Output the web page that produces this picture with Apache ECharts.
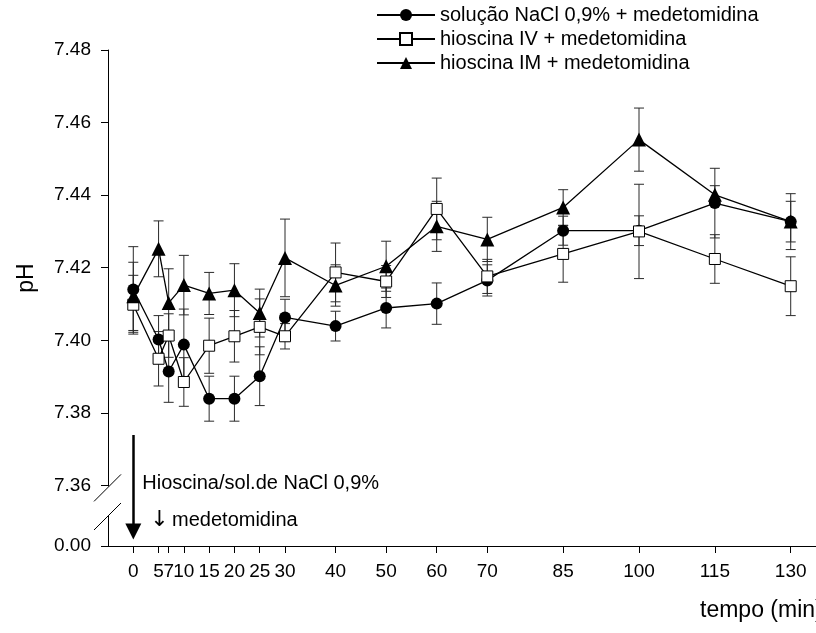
<!DOCTYPE html>
<html>
<head>
<meta charset="utf-8">
<script src="https://cdn.jsdelivr.net/npm/echarts@6/dist/echarts.min.js"></script>
<style>
  html, body { margin: 0; padding: 0; background: #fff; }
  #chart { width: 816px; height: 633px; }
</style>
</head>
<body>
<div id="chart"></div>
<script>
// Sampling times (min)
const times = [0, 5, 7, 10, 15, 20, 25, 30, 40, 50, 60, 70, 85, 100, 115, 130];

// Mean pH and SEM per group
const naclMean = [7.4140, 7.4002, 7.3914, 7.3988, 7.3839, 7.3839, 7.3901, 7.4063, 7.4039, 7.4089, 7.4101, 7.4165, 7.4302, 7.4302, 7.4378, 7.4327];
const naclErr  = [0.0118, 0.0066, 0.0085, 0.0098, 0.0062, 0.0062, 0.0081, 0.0050, 0.0041, 0.0055, 0.0057, 0.0043, 0.0040, 0.0041, 0.0096, 0.0056];

const ivMean = [7.4098, 7.3949, 7.4013, 7.3885, 7.3985, 7.4011, 7.4037, 7.4011, 7.4187, 7.4162, 7.4362, 7.4176, 7.4238, 7.4300, 7.4224, 7.4149];
const ivErr  = [0.0081, 0.0075, 0.0060, 0.0067, 0.0076, 0.0071, 0.0077, 0.0035, 0.0081, 0.0044, 0.0085, 0.0047, 0.0078, 0.0130, 0.0067, 0.0081];

const imMean = [7.4121, 7.4252, 7.4103, 7.4152, 7.4129, 7.4138, 7.4075, 7.4227, 7.4151, 7.4204, 7.4314, 7.4278, 7.4366, 7.4553, 7.4401, 7.4327];
const imErr  = [0.0094, 0.0077, 0.0094, 0.0082, 0.0058, 0.0073, 0.0066, 0.0107, 0.0057, 0.0069, 0.0069, 0.0061, 0.0049, 0.0087, 0.0025, 0.0077];

const seriesNames = [
  'solução NaCl 0,9% + medetomidina',
  'hioscina IV + medetomidina',
  'hioscina IM + medetomidina'
];

// Y tick labels above the axis break
const yTickValues = [7.36, 7.38, 7.40, 7.42, 7.44, 7.46, 7.48];
// Axis position that carries the "0.00" origin label below the break
const ORIGIN_POS = 7.3433;
const ORIGIN_LABEL = '0.00';

// Administration arrow at t = 0 (axis units)
const arrowFrom = 7.3739;
const arrowTo = 7.3473;

const FONT = '"Liberation Sans", Arial, Helvetica, sans-serif';

const chart = echarts.init(document.getElementById('chart'), null, { renderer: 'canvas' });

function pairs(mean) { return times.map((t, i) => [t, mean[i]]); }
function errRows(mean, err) { return times.map((t, i) => [t, mean[i] - err[i], mean[i] + err[i]]); }

function renderErrorBar(params, api) {
  const x = api.value(0);
  const lo = api.coord([x, api.value(1)]);
  const hi = api.coord([x, api.value(2)]);
  const hw = 5;
  const st = { stroke: '#2a2a2a', lineWidth: 1 };
  return {
    type: 'group',
    children: [
      { type: 'line', shape: { x1: lo[0], y1: lo[1], x2: hi[0], y2: hi[1] }, style: st },
      { type: 'line', shape: { x1: hi[0] - hw, y1: hi[1], x2: hi[0] + hw, y2: hi[1] }, style: st },
      { type: 'line', shape: { x1: lo[0] - hw, y1: lo[1], x2: lo[0] + hw, y2: lo[1] }, style: st }
    ]
  };
}

function errSeries(mean, err) {
  return {
    type: 'custom',
    renderItem: renderErrorBar,
    data: errRows(mean, err),
    encode: { x: 0, y: [1, 2] },
    silent: true,
    z: 1,
    animation: false
  };
}

const lineStyle = { color: '#000', width: 1.3 };

const option = {
  backgroundColor: '#fff',
  animation: false,
  textStyle: { fontFamily: FONT, color: '#000' },
  grid: { left: 108, top: 50, bottom: 87, right: -9, containLabel: false },
  legend: {
    data: seriesNames,
    orient: 'vertical',
    left: 376,
    top: 5,
    padding: 0,
    itemGap: 4,
    itemWidth: 58,
    itemHeight: 15,
    textStyle: { fontFamily: FONT, fontSize: 20, color: '#000', lineHeight: 20 },
    selectedMode: false
  },
  xAxis: {
    type: 'value',
    min: -5,
    max: 135,
    splitLine: { show: false },
    axisLine: { onZero: false, lineStyle: { color: '#000', width: 1 } },
    axisTick: { customValues: times, length: 7, lineStyle: { color: '#000' } },
    axisLabel: {
      customValues: times,
      margin: 16,
      fontSize: 19,
      color: '#000',
      fontFamily: FONT
    }
  },
  yAxis: {
    type: 'value',
    min: ORIGIN_POS,
    max: 7.48,
    splitLine: { show: false },
    axisLine: { show: true, onZero: false, lineStyle: { color: '#000', width: 1 } },
    axisTick: { customValues: [ORIGIN_POS].concat(yTickValues), length: 7, lineStyle: { color: '#000' } },
    axisLabel: {
      customValues: [ORIGIN_POS].concat(yTickValues),
      margin: 17,
      fontSize: 19,
      color: '#000',
      fontFamily: FONT,
      formatter: v => (v < 7.35 ? ORIGIN_LABEL : v.toFixed(2))
    }
  },
  series: [
    errSeries(naclMean, naclErr),
    errSeries(ivMean, ivErr),
    errSeries(imMean, imErr),
    {
      name: seriesNames[0],
      type: 'line',
      data: pairs(naclMean),
      symbol: 'circle',
      symbolSize: 12,
      lineStyle: lineStyle,
      itemStyle: { color: '#000' },
      z: 3,
      markLine: {
        silent: true,
        symbol: ['none', 'triangle'],
        symbolSize: 16,
        lineStyle: { color: '#000', width: 2.5, type: 'solid' },
        itemStyle: { color: '#000' },
        label: { show: false },
        emphasis: { disabled: true },
        data: [[{ coord: [0, arrowFrom] }, { coord: [0, arrowTo] }]]
      }
    },
    {
      name: seriesNames[1],
      type: 'line',
      data: pairs(ivMean),
      symbol: 'rect',
      symbolSize: 11,
      lineStyle: lineStyle,
      itemStyle: { color: '#fff', borderColor: '#000', borderWidth: 1 },
      z: 4
    },
    {
      name: seriesNames[2],
      type: 'line',
      data: pairs(imMean),
      symbol: 'triangle',
      symbolSize: 14,
      lineStyle: lineStyle,
      itemStyle: { color: '#000' },
      z: 5
    }
  ]
};

chart.setOption(option);

// Axis break marks between the origin and 7.36, plus titles and the dosing note
const axisX = chart.convertToPixel({ gridIndex: 0 }, [-5, 7.36])[0];
const yTop = chart.convertToPixel({ gridIndex: 0 }, [0, 7.36])[1];
const yBottom = chart.convertToPixel({ gridIndex: 0 }, [0, ORIGIN_POS])[1];
const x0 = chart.convertToPixel({ gridIndex: 0 }, [0, 7.36])[0];
const gapTop = yTop + 1;
const gapBottom = yBottom - 31;

chart.setOption({
  graphic: [
    { type: 'rect', shape: { x: axisX - 3, y: gapTop, width: 6, height: gapBottom - gapTop }, style: { fill: '#fff' }, z: 100 },
    { type: 'line', shape: { x1: axisX - 14, y1: gapTop + 15, x2: axisX + 13, y2: gapTop - 12 }, style: { stroke: '#000', lineWidth: 1 }, z: 101 },
    { type: 'line', shape: { x1: axisX - 14, y1: gapBottom + 15, x2: axisX + 13, y2: gapBottom - 12 }, style: { stroke: '#000', lineWidth: 1 }, z: 101 },
    {
      type: 'text', x: x0 + 9, y: yTop - 2, z: 101,
      style: { text: 'Hioscina/sol.de NaCl 0,9%', font: '20px ' + FONT, fill: '#000', verticalAlign: 'middle' }
    },
    {
      type: 'text', x: x0 + 17, y: yBottom - 26, z: 101,
      style: {
        text: '{a|↓} {b|medetomidina}',
        fill: '#000',
        verticalAlign: 'middle',
        rich: {
          a: { fontFamily: '"DejaVu Sans"', fontSize: 22, fill: '#000' },
          b: { fontFamily: FONT, fontSize: 20, fill: '#000' }
        }
      }
    },
    {
      type: 'text', x: 27, y: 278, rotation: Math.PI / 2, z: 101,
      style: { text: 'pH', font: '23px ' + FONT, fill: '#000', align: 'center', verticalAlign: 'middle' }
    },
    {
      type: 'text', x: 700, y: 611, z: 101,
      style: { text: 'tempo (min)', font: '23px ' + FONT, fill: '#000', verticalAlign: 'middle' }
    }
  ]
});
</script>
</body>
</html>
